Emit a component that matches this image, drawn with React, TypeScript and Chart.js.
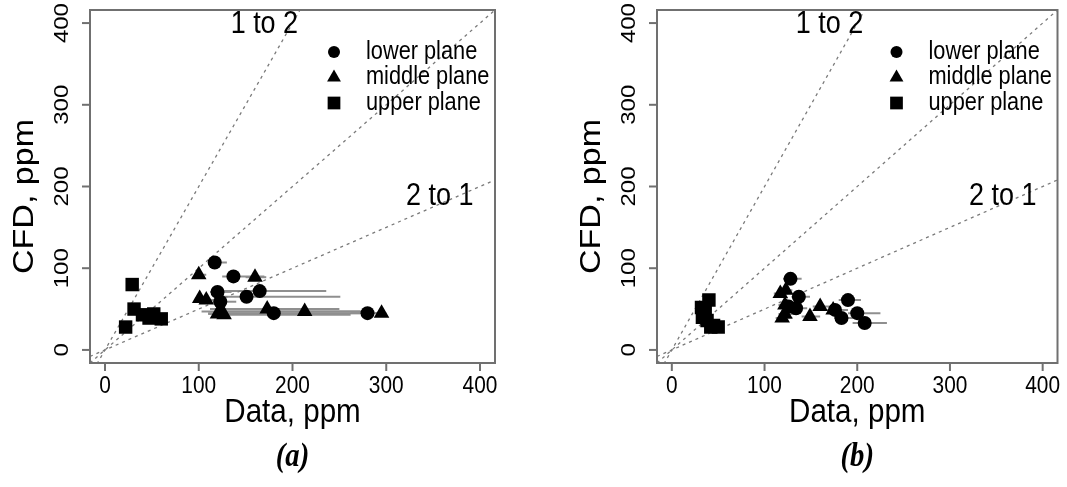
import React, { useEffect, useRef } from 'react';
import { Chart, registerables } from 'chart.js';

Chart.register(...registerables);

// ---------- shared axis / label data ----------
const AXIS_MIN = -16;
const AXIS_MAX = 416;
const TICKS = [0, 100, 200, 300, 400];
const TICK_LABELS = ['0', '100', '200', '300', '400'];
const REF_SLOPES = [2, 1, 0.5];
const REF_LABELS = ['1 to 2', '2 to 1'];
const REF_LABEL_X = [170, 357];
const REF_LABEL_Y = [398, 188];
const LEGEND_LABELS = ['lower plane', 'middle plane', 'upper plane'];
const X_TITLE = 'Data, ppm';
const Y_TITLE = 'CFD, ppm';
const CAPTIONS = ['(a)', '(b)'];

// ---------- panel (a) ----------
const A_LOWER_X = [117, 137, 120, 151, 165, 123, 180, 280];
const A_LOWER_Y = [107, 90, 71, 65, 72, 59, 45, 45];
const A_LOWER_LO = [110, 125, 112, 123, 125, 115, 110, 262];
const A_LOWER_HI = [130, 170, 135, 251, 236, 140, 272, 290];

const A_MIDDLE_X = [100, 160, 101, 108, 123, 120, 127, 173, 213, 295];
const A_MIDDLE_Y = [92, 89, 63, 61, 47, 44, 43, 50, 47, 45];
const A_MIDDLE_LO = [95, 150, 96, 100, 103, 110, 115, 112, 120, 288];
const A_MIDDLE_HI = [108, 172, 110, 120, 275, 140, 262, 250, 272, 300];

const A_UPPER_X = [29, 31, 22, 40, 52, 60, 47];
const A_UPPER_Y = [80, 50, 28, 43, 44, 38, 39];

// ---------- panel (b) ----------
const B_LOWER_X = [128, 137, 126, 134, 190, 183, 200, 208, 176];
const B_LOWER_Y = [87, 65, 53, 51, 61, 39, 45, 33, 49];
const B_LOWER_LO = [120, 130, 120, 125, 180, 175, 190, 195, 168];
const B_LOWER_HI = [140, 149, 138, 146, 204, 198, 225, 232, 190];

const B_MIDDLE_X = [117, 123, 122, 119, 149, 160, 174, 122];
const B_MIDDLE_Y = [69, 73, 55, 39, 41, 53, 49, 44];
const B_MIDDLE_LO = [110, 115, 115, 112, 140, 152, 165, 115];
const B_MIDDLE_HI = [125, 130, 135, 130, 160, 170, 190, 135];

const B_UPPER_X = [40, 32, 36, 33, 38, 45, 50, 42];
const B_UPPER_Y = [61, 52, 48, 40, 36, 30, 28, 28];

// ---------- styling ----------
const SX = 0.87; // horizontal squeeze of the original figure's lettering
const SANS = '"Liberation Sans", Arial, sans-serif';
const SERIF = '"Liberation Serif", "Times New Roman", serif';
const FRAME = '#707070';

const zip = (xs: number[], ys: number[]) => xs.map((x, i) => ({ x, y: ys[i] }));

function txt(
  ctx: CanvasRenderingContext2D,
  s: string,
  x: number,
  y: number,
  font: string,
  align: CanvasTextAlign,
  baseline: CanvasTextBaseline,
  rot = false
) {
  ctx.save();
  ctx.translate(x, y);
  ctx.scale(SX, 1);
  if (rot) ctx.rotate(-Math.PI / 2);
  ctx.font = font;
  ctx.textAlign = align;
  ctx.textBaseline = baseline;
  ctx.fillStyle = '#000';
  ctx.fillText(s, 0, 0);
  ctx.restore();
}

function symbol(ctx: CanvasRenderingContext2D, kind: string, x: number, y: number, r: number) {
  ctx.save();
  ctx.fillStyle = '#000';
  ctx.beginPath();
  if (kind === 'circle') {
    ctx.arc(x, y, r, 0, Math.PI * 2);
  } else if (kind === 'triangle') {
    ctx.moveTo(x, y - r);
    ctx.lineTo(x + r * Math.sin((2 * Math.PI) / 3), y + r / 2);
    ctx.lineTo(x - r * Math.sin((2 * Math.PI) / 3), y + r / 2);
    ctx.closePath();
  } else {
    const h = r * Math.SQRT1_2;
    ctx.rect(x - h, y - h, 2 * h, 2 * h);
  }
  ctx.fill();
  ctx.restore();
}

type Panel = {
  lowerX: number[];
  lowerY: number[];
  lowerLo: number[];
  lowerHi: number[];
  middleX: number[];
  middleY: number[];
  middleLo: number[];
  middleHi: number[];
  upperX: number[];
  upperY: number[];
  caption: string;
  padding: { left: number; right: number; top: number; bottom: number };
};

const PANELS: Panel[] = [
  {
    lowerX: A_LOWER_X, lowerY: A_LOWER_Y, lowerLo: A_LOWER_LO, lowerHi: A_LOWER_HI,
    middleX: A_MIDDLE_X, middleY: A_MIDDLE_Y, middleLo: A_MIDDLE_LO, middleHi: A_MIDDLE_HI,
    upperX: A_UPPER_X, upperY: A_UPPER_Y,
    caption: CAPTIONS[0],
    padding: { left: 90, right: 572, top: 10, bottom: 124 },
  },
  {
    lowerX: B_LOWER_X, lowerY: B_LOWER_Y, lowerLo: B_LOWER_LO, lowerHi: B_LOWER_HI,
    middleX: B_MIDDLE_X, middleY: B_MIDDLE_Y, middleLo: B_MIDDLE_LO, middleHi: B_MIDDLE_HI,
    upperX: B_UPPER_X, upperY: B_UPPER_Y,
    caption: CAPTIONS[1],
    padding: { left: 657, right: 5, top: 10, bottom: 124 },
  },
];

function makeChart(canvas: HTMLCanvasElement, p: Panel) {
  const refData = REF_SLOPES.map((m) => [
    { x: AXIS_MIN, y: m * AXIS_MIN },
    { x: AXIS_MAX, y: m * AXIS_MAX },
  ]);

  const errorBars = {
    id: 'errorBars',
    beforeDatasetsDraw(chart: any) {
      const ctx = chart.ctx as CanvasRenderingContext2D;
      const xs = chart.scales.x;
      const ys = chart.scales.y;
      const area = chart.chartArea;
      ctx.save();
      ctx.beginPath();
      ctx.rect(area.left, area.top, area.right - area.left, area.bottom - area.top);
      ctx.clip();
      ctx.strokeStyle = '#8f8f8f';
      ctx.lineWidth = 2;
      const sets: [number[], number[], number[]][] = [
        [p.lowerY, p.lowerLo, p.lowerHi],
        [p.middleY, p.middleLo, p.middleHi],
      ];
      sets.forEach(([yy, lo, hi]) => {
        yy.forEach((v, i) => {
          const py = ys.getPixelForValue(v);
          ctx.beginPath();
          ctx.moveTo(xs.getPixelForValue(lo[i]), py);
          ctx.lineTo(xs.getPixelForValue(hi[i]), py);
          ctx.stroke();
        });
      });
      ctx.restore();
    },
  };

  const frame = {
    id: 'frame',
    afterDraw(chart: any) {
      const ctx = chart.ctx as CanvasRenderingContext2D;
      const xs = chart.scales.x;
      const ys = chart.scales.y;
      const a = chart.chartArea;
      ctx.save();
      ctx.strokeStyle = FRAME;
      ctx.lineWidth = 2;
      ctx.strokeRect(a.left, a.top, a.right - a.left, a.bottom - a.top);
      // ticks
      TICKS.forEach((t, i) => {
        const px = xs.getPixelForValue(t);
        ctx.beginPath();
        ctx.moveTo(px, a.bottom);
        ctx.lineTo(px, a.bottom + 8);
        ctx.stroke();
        txt(ctx, TICK_LABELS[i], px, a.bottom + 11, `24px ${SANS}`, 'center', 'top');
        const py = ys.getPixelForValue(t);
        ctx.beginPath();
        ctx.moveTo(a.left, py);
        ctx.lineTo(a.left - 8, py);
        ctx.stroke();
        txt(ctx, TICK_LABELS[i], a.left - 28, py, `24px ${SANS}`, 'center', 'middle', true);
      });
      ctx.restore();
      const cx = (a.left + a.right) / 2;
      txt(ctx, X_TITLE, cx, a.bottom + 33, `34px ${SANS}`, 'center', 'top');
      txt(ctx, Y_TITLE, a.left - 65, (a.top + a.bottom) / 2 + 10, `34px ${SANS}`, 'center', 'middle', true);
      txt(ctx, p.caption, cx, 457, `bold italic 33px ${SERIF}`, 'center', 'middle');
      // reference line labels
      REF_LABELS.forEach((s, i) => {
        txt(ctx, s, xs.getPixelForValue(REF_LABEL_X[i]), ys.getPixelForValue(REF_LABEL_Y[i]), `31px ${SANS}`, 'center', 'middle');
      });
      // legend
      const kinds = ['circle', 'triangle', 'rect'];
      const radii = [6, 8, 9];
      kinds.forEach((k, i) => {
        const ly = a.top + 42 + i * 25.5;
        symbol(ctx, k, a.right - 161, ly, radii[i]);
        txt(ctx, LEGEND_LABELS[i], a.right - 129, ly, `25px ${SANS}`, 'left', 'middle');
      });
    },
  };

  const lineStyle = {
    showLine: true,
    pointRadius: 0,
    borderColor: '#7a7a7a',
    borderWidth: 1.3,
    borderDash: [3, 4],
    fill: false,
  };

  return new Chart(canvas, {
    type: 'scatter',
    data: {
      datasets: [
        {
          label: LEGEND_LABELS[0],
          data: zip(p.lowerX, p.lowerY),
          pointStyle: 'circle',
          pointRadius: 7,
          backgroundColor: '#000',
          borderWidth: 0,
        },
        {
          label: LEGEND_LABELS[1],
          data: zip(p.middleX, p.middleY),
          pointStyle: 'triangle',
          pointRadius: 9,
          backgroundColor: '#000',
          borderWidth: 0,
        },
        {
          label: LEGEND_LABELS[2],
          data: zip(p.upperX, p.upperY),
          pointStyle: 'rect',
          pointRadius: 9.5,
          backgroundColor: '#000',
          borderWidth: 0,
        },
        ...refData.map((d, i) => ({ label: 'ref' + i, data: d, ...lineStyle })),
      ] as any,
    },
    options: {
      animation: false,
      responsive: false,
      devicePixelRatio: 1,
      layout: { padding: p.padding },
      scales: {
        x: { type: 'linear', min: AXIS_MIN, max: AXIS_MAX, display: false },
        y: { type: 'linear', min: AXIS_MIN, max: AXIS_MAX, display: false },
      },
      plugins: {
        legend: { display: false },
        tooltip: { enabled: false },
      },
      events: [],
    },
    plugins: [errorBars, frame],
  });
}

export default function App() {
  const refA = useRef<HTMLCanvasElement>(null);
  const refB = useRef<HTMLCanvasElement>(null);

  useEffect(() => {
    const charts: Chart[] = [];
    if (refA.current) charts.push(makeChart(refA.current, PANELS[0]));
    if (refB.current) charts.push(makeChart(refB.current, PANELS[1]));
    return () => charts.forEach((c) => c.destroy());
  }, []);

  const cs: React.CSSProperties = { position: 'absolute', left: 0, top: 0, width: 1067, height: 487 };
  return (
    <div style={{ position: 'fixed', left: 0, top: 0, width: 1067, height: 487, background: '#fff' }}>
      <canvas ref={refA} width={1067} height={487} style={cs} />
      <canvas ref={refB} width={1067} height={487} style={cs} />
    </div>
  );
}
